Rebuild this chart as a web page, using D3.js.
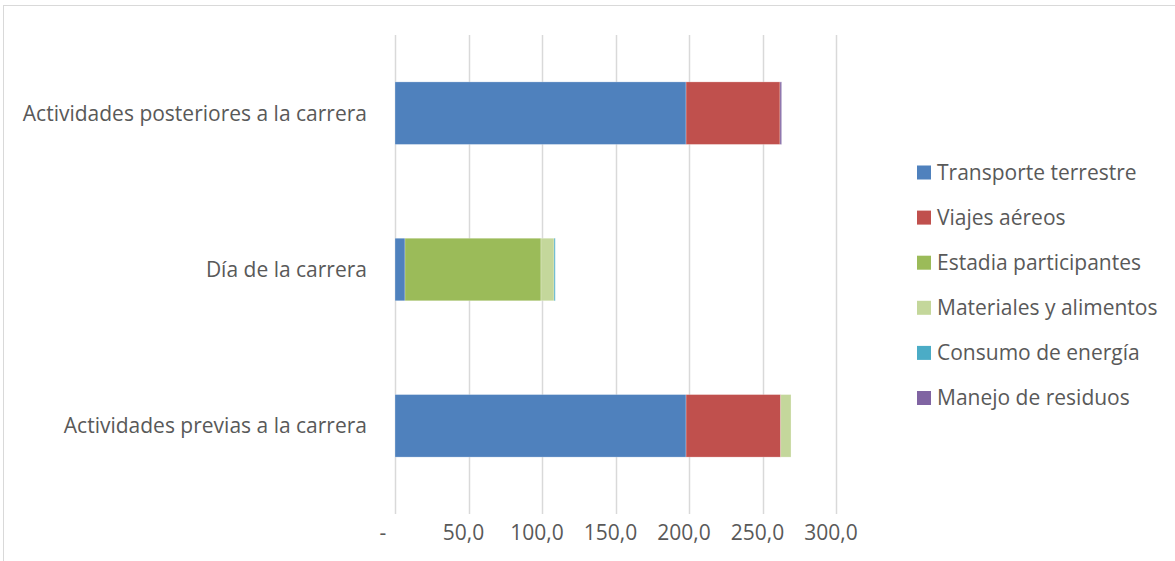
<!DOCTYPE html>
<html>
<head>
<meta charset="utf-8">
<script src="https://cdn.jsdelivr.net/npm/d3@7"></script>
<style>
  body { margin: 0; background: #fff; }
  svg { display: block; font-family: 'Open Sans', sans-serif; }
</style>
</head>
<body>
<script>
const width = 1175
const height = 561

// categories, top to bottom as in the reference
const categories = [
    'Actividades posteriores a la carrera',
    'Día de la carrera',
    'Actividades previas a la carrera',
]

const seriesNames = [
    'Transporte terrestre',
    'Viajes aéreos',
    'Estadia participantes',
    'Materiales y alimentos',
    'Consumo de energía',
    'Manejo de residuos',
]

// one array per series, in the order of categories
const transporte = [198.0, 6.8, 198.0]
const viajes = [63.9, 0, 64.4]
const estadia = [0, 92.5, 0]
const materiales = [0, 8.9, 7.0]
const energia = [0, 0.8, 0]
const residuos = [1.1, 0, 0]

const seriesValues = [transporte, viajes, estadia, materiales, energia, residuos]
const colors = ['#4F81BD', '#C0504D', '#9BBB59', '#C4D79B', '#4BACC6', '#8064A2']
const tickValues = [0, 50, 100, 150, 200, 250, 300]

const margin = { top: 35, right: 339, bottom: 57, left: 395 }
const fontSize = 21

const rows = categories.map((c, i) => {
    const row = { category: c }
    seriesNames.forEach((s, j) => { row[s] = seriesValues[j][i] })
    return row
})

const stack = d3.stack().keys(seriesNames)(rows)

const x = d3.scaleLinear()
    .domain([0, 300])
    .range([margin.left, margin.left + 441])

const y = d3.scaleBand()
    .domain(categories)
    .range([margin.top, height - margin.bottom])
    .paddingInner(0.6)
    .paddingOuter(0.3)

const svg = d3.select('body').append('svg')
    .attr('width', width)
    .attr('height', height)
    .attr('viewBox', [0, 0, width, height])

// chart border
svg.append('rect')
    .attr('x', 3.5)
    .attr('y', 5.5)
    .attr('width', width)
    .attr('height', height)
    .attr('fill', 'none')
    .attr('stroke', '#D9D9D9')

// gridlines
svg.append('g')
        .attr('stroke', '#D9D9D9')
        .attr('stroke-width', 1.5)
    .selectAll('line')
    .data(tickValues)
    .join('line')
        .attr('x1', d => Math.round(x(d)) + 0.5)
        .attr('x2', d => Math.round(x(d)) + 0.5)
        .attr('y1', margin.top)
        .attr('y2', height - margin.bottom + 10)

// tick labels
svg.append('g')
        .attr('fill', '#595959')
        .attr('font-size', fontSize)
        .attr('text-anchor', 'middle')
    .selectAll('text')
    .data(tickValues)
    .join('text')
        .attr('x', d => d === 0 ? x(d) - 12 : x(d) - 5)
        .attr('y', 533)
        .attr('dy', '0.35em')
        .text(d => d === 0 ? '-' : d3.format('.1f')(d).replace('.', ','))

// bars
svg.append('g')
    .selectAll('g')
    .data(stack)
    .join('g')
        .attr('fill', (d, i) => colors[i])
    .selectAll('rect')
    .data(d => d.filter(p => p[1] > p[0]))
    .join('rect')
        .attr('x', d => x(d[0]))
        .attr('y', d => y(d.data.category))
        .attr('width', d => x(d[1]) - x(d[0]))
        .attr('height', y.bandwidth())
        .attr('stroke', 'rgba(255,255,255,0.35)')
        .attr('stroke-width', 0.75)

// category labels
svg.append('g')
        .attr('fill', '#595959')
        .attr('font-size', fontSize)
        .attr('text-anchor', 'end')
    .selectAll('text')
    .data(categories)
    .join('text')
        .attr('x', 367)
        .attr('y', d => y(d) + y.bandwidth() / 2)
        .attr('dy', '0.35em')
        .text(d => d)

// legend
const legend = svg.append('g')
    .attr('font-size', fontSize)
    .attr('fill', '#595959')
    .selectAll('g')
    .data(seriesNames)
    .join('g')
        .attr('transform', (d, i) => `translate(917, ${172.5 + i * 45.1})`)

legend.append('rect')
    .attr('x', 0)
    .attr('y', -7)
    .attr('width', 14)
    .attr('height', 14)
    .attr('fill', (d, i) => colors[i])

legend.append('text')
    .attr('x', 20)
    .attr('dy', '0.35em')
    .text(d => d)
</script>
</body>
</html>
